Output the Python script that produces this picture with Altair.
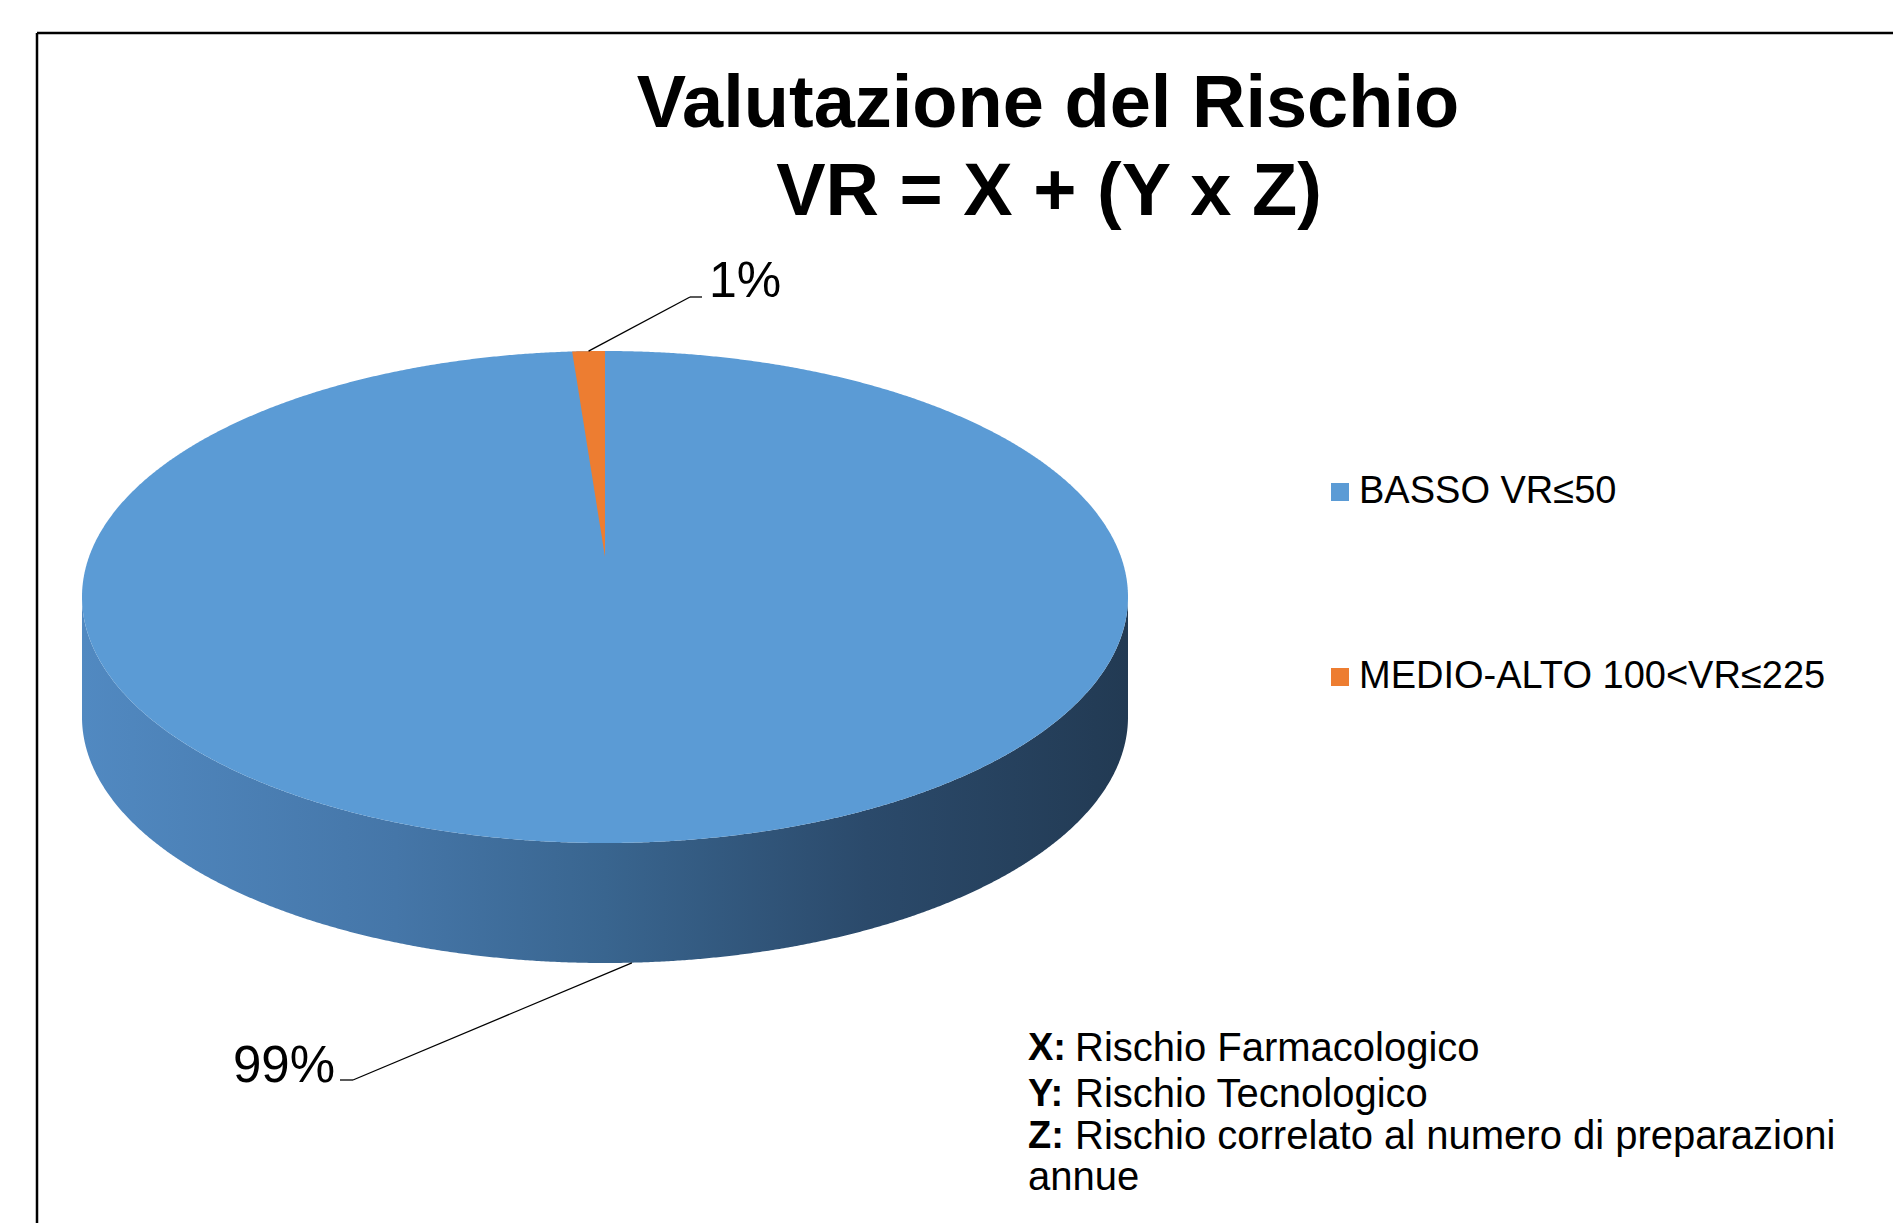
import numpy as np
import pandas as pd
import altair as alt

# ---------------- data ----------------
categories = ["BASSO VR≤50", "MEDIO-ALTO 100<VR≤225"]
shares = [99, 1]
colors = ["#5B9BD5", "#ED7D31"]
title_lines = ["Valutazione del Rischio", "VR = X + (Y x Z)"]
note_keys = ["X:", "Y:", "Z:", ""]
note_texts = ["Rischio Farmacologico", "Rischio Tecnologico",
              "Rischio correlato al numero di preparazioni", "annue"]

# ---------------- layout (pixels in view coordinates) ----------------
W, H = 1885, 1215
CX, CY, RX, RY = 597, 589, 523, 246      # top face ellipse
DEPTH = 120 / RY                          # wall depth in data units
APEX = 40 / RY                            # perspective centre of top face
FONT = "Liberation Sans"


def px2x(p):
    return (p - CX) / RX


def px2y(p):
    return (CY - p) / RY


total = float(sum(shares))
cw = np.concatenate([[0.0], np.cumsum(shares)]) / total * 360.0   # clockwise from 12 o'clock


def math_angle(c):
    return np.radians(90.0 - c)


# ---------------- geometry ----------------
N = 721
t = np.linspace(0, np.pi, N)
top_face = pd.DataFrame({"x": np.cos(t), "y": np.sin(t), "y2": -np.sin(t), "cat": categories[0]})

tb = np.linspace(np.pi, 2 * np.pi, N)
wall = pd.DataFrame({"x": np.cos(tb), "y": np.sin(tb), "y2": np.sin(tb) - DEPTH})

wedge_rows = []
for i in range(1, len(shares)):
    a0, a1 = math_angle(cw[i]), math_angle(cw[i + 1])
    ex0, ey0 = np.cos(a0), np.sin(a0)
    ex1, ey1 = np.cos(a1), np.sin(a1)
    for a in np.linspace(a0, a1, 60):
        xa = np.cos(a)
        ya = np.sin(a)
        lows = []
        for ex, ey in ((ex0, ey0), (ex1, ey1)):
            if abs(ex) > 1e-9 and min(0, ex) - 1e-12 <= xa <= max(0, ex) + 1e-12:
                lows.append(APEX + (ey - APEX) * xa / ex)
        low = min(lows) if lows else APEX
        wedge_rows.append({"x": xa, "y": ya, "y2": low, "cat": categories[i]})
wedge = pd.DataFrame(wedge_rows)

# labels & leader lines
mid_small = math_angle((cw[1] + cw[2]) / 2)
mid_big = math_angle((cw[0] + cw[1]) / 2)
lab_small = f"{shares[1]}%"
lab_big = f"{shares[0]}%"

leaders = pd.DataFrame([
    {"x": np.cos(mid_small), "y": np.sin(mid_small), "x2": px2x(682), "y2": px2y(289)},
    {"x": px2x(682), "y": px2y(289), "x2": px2x(694), "y2": px2y(289)},
    {"x": np.cos(mid_big) + 0.02, "y": np.sin(mid_big) - DEPTH, "x2": px2x(345), "y2": px2y(1072)},
    {"x": px2x(345), "y": px2y(1072), "x2": px2x(332), "y2": px2y(1072)},
])

xs = alt.Scale(domain=[-1, 1], range=[CX - RX, CX + RX], nice=False, zero=False)
ys = alt.Scale(domain=[-1, 1], range=[CY + RY, CY - RY], nice=False, zero=False)
X = lambda f="x": alt.X(f"{f}:Q", scale=xs, axis=None)
Y = lambda f="y": alt.Y(f"{f}:Q", scale=ys, axis=None)

color = alt.Color(
    "cat:N",
    scale=alt.Scale(domain=categories, range=colors),
    legend=alt.Legend(
        title=None, orient="none", legendX=1313, legendY=465,
        symbolType="square", symbolSize=324, symbolStrokeWidth=0,
        labelFontSize=38, labelFont=FONT, labelColor="black",
        rowPadding=147, labelOffset=0, padding=0, labelLimit=0,
        direction="vertical",
    ),
)

wall_layer = alt.Chart(wall).mark_area(
    opacity=1,
    fill=alt.Gradient(
        gradient="linear",
        stops=[
            alt.GradientStop(color="#5189c1", offset=0),
            alt.GradientStop(color="#4576a8", offset=0.3),
            alt.GradientStop(color="#39658f", offset=0.5),
            alt.GradientStop(color="#2b4a6b", offset=0.75),
            alt.GradientStop(color="#223a53", offset=1),
        ],
        x1=0, x2=1, y1=0, y2=0,
    ),
).encode(x=X(), y=Y(), y2="y2:Q")

top_layer = alt.Chart(top_face).mark_area(opacity=1).encode(x=X(), y=Y(), y2="y2:Q", color=color)
wedge_layer = alt.Chart(wedge).mark_area(opacity=1).encode(x=X(), y=Y(), y2="y2:Q", color=color)

leader_layer = alt.Chart(leaders).mark_rule(color="black", strokeWidth=1.3).encode(
    x=X(), y=Y(), x2="x2:Q", y2="y2:Q"
)

one = alt.Data(values=[{}])
lbl_small = alt.Chart(one).mark_text(
    text=lab_small, font=FONT, fontSize=50, align="left", baseline="alphabetic", color="black"
).encode(x=alt.value(701), y=alt.value(289))
lbl_big = alt.Chart(one).mark_text(
    text=lab_big, font=FONT, fontSize=51, align="right", baseline="alphabetic", color="black"
).encode(x=alt.value(327), y=alt.value(1074))

title1 = alt.Chart(one).mark_text(
    text=title_lines[0], font=FONT, fontSize=74, fontWeight="bold", align="center",
    baseline="alphabetic", color="black"
).encode(x=alt.value(1040), y=alt.value(119))
title2 = alt.Chart(one).mark_text(
    text=title_lines[1], font=FONT, fontSize=74, fontWeight="bold", align="center",
    baseline="alphabetic", color="black"
).encode(x=alt.value(1041), y=alt.value(207))

note_y = [1041, 1087, 1129, 1170]
notes = pd.DataFrame({
    "key": note_keys,
    "txt": note_texts,
    "y": [px2y(v) for v in note_y],
    "xk": px2x(1020),
    "xt": [px2x(1067) if k else px2x(1020) for k in note_keys],
})
note_key_layer = alt.Chart(notes).mark_text(
    font=FONT, fontSize=38, fontWeight="bold", align="left", baseline="middle", color="black"
).encode(x=X("xk"), y=Y(), text="key:N")
note_txt_layer = alt.Chart(notes).mark_text(
    font=FONT, fontSize=40, align="left", baseline="middle", color="black"
).encode(x=X("xt"), y=Y(), text="txt:N")

border_top = alt.Chart(one).mark_rule(color="black", strokeWidth=2.5).encode(
    x=alt.value(29), x2=alt.value(W), y=alt.value(25)
)
border_left = alt.Chart(one).mark_rule(color="black", strokeWidth=2.5).encode(
    x=alt.value(29), y=alt.value(25), y2=alt.value(H)
)

chart = alt.layer(
    wall_layer, top_layer, wedge_layer, leader_layer, lbl_small, lbl_big,
    title1, title2, note_key_layer, note_txt_layer, border_top, border_left,
).properties(
    width=W, height=H, padding=0, autosize=alt.AutoSizeParams(type="none"),
    background="white",
).configure_view(stroke=None)

chart.save("out.html", embed_options={"renderer": "svg", "actions": False})
